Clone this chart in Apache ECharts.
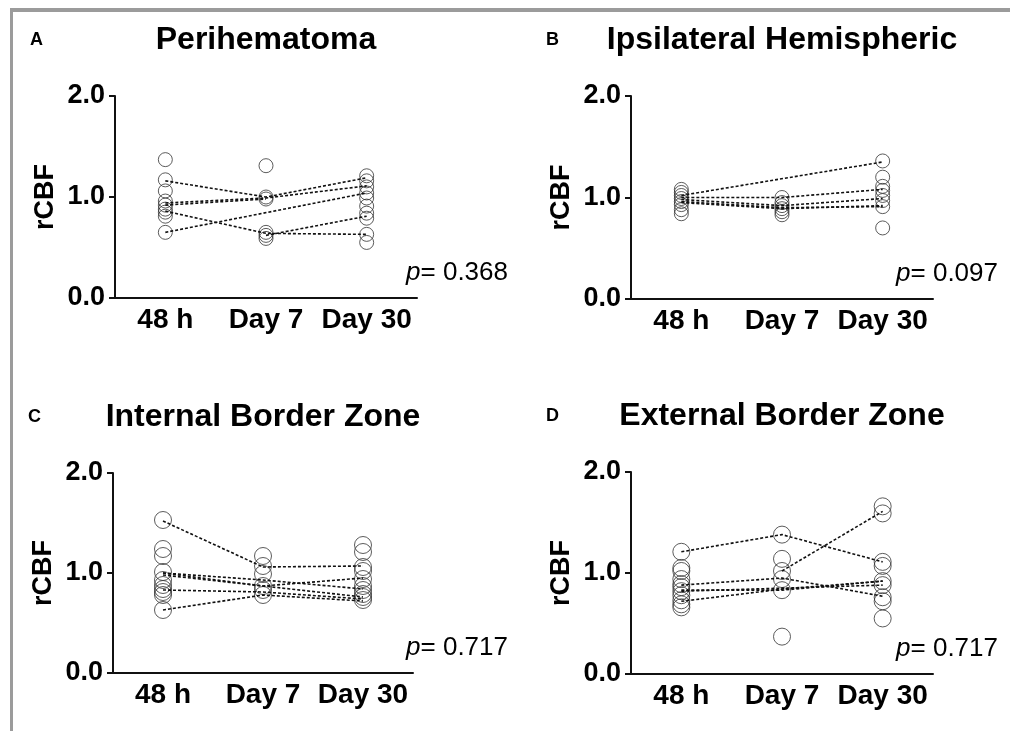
<!DOCTYPE html>
<html lang="en">
<head>
    <meta charset="UTF-8">
    <title>rCBF</title>
    <script src="https://cdn.jsdelivr.net/npm/echarts@6/dist/echarts.min.js"></script>
</head>
<body style="margin:0;background:#fff">
    <div id="ec" style="width:1010px;height:731px"></div>
</body>
<script>
    // time points on the x axis
    var timePoints = ['48 h', 'Day 7', 'Day 30']
    var yTicks = [0, 1, 2]

    // A - Perihematoma
    var peri48 = [1.37, 1.17, 1.06, 0.96, 0.92, 0.88, 0.85, 0.81, 0.65]
    var peri7 = [1.31, 1.00, 0.98, 0.65, 0.62, 0.59]
    var peri30 = [1.21, 1.16, 1.10, 1.04, 0.99, 0.91, 0.84, 0.79, 0.63, 0.55]
    var periLinks = [
        [[0, 1.16], [1, 1.00], [2, 1.19]],
        [[0, 0.94], [1, 0.99], [2, 1.11]],
        [[0, 0.92], [1, 0.98]],
        [[0, 0.86], [1, 0.64], [2, 0.63]],
        [[1, 0.62], [2, 0.81]],
        [[0, 0.65], [2, 1.04]]
    ]

    // B - Ipsilateral Hemispheric
    var ipsi48 = [1.08, 1.05, 1.02, 0.99, 0.96, 0.93, 0.88, 0.84]
    var ipsi7 = [1.00, 0.95, 0.92, 0.89, 0.86, 0.83]
    var ipsi30 = [1.36, 1.20, 1.11, 1.07, 1.02, 0.97, 0.91, 0.70]
    var ipsiLinks = [
        [[0, 1.02], [2, 1.35]],
        [[0, 1.00], [1, 1.00], [2, 1.08]],
        [[0, 0.98], [1, 0.92], [2, 0.99]],
        [[0, 0.96], [1, 0.90], [2, 0.91]],
        [[0, 0.95], [1, 0.89], [2, 0.92]]
    ]

    // C - Internal Border Zone
    var ibz48 = [1.53, 1.24, 1.17, 1.01, 0.93, 0.88, 0.84, 0.81, 0.78, 0.63]
    var ibz7 = [1.17, 1.07, 0.99, 0.87, 0.83, 0.78]
    var ibz30 = [1.28, 1.21, 1.06, 1.02, 0.94, 0.87, 0.83, 0.79, 0.76, 0.73]
    var ibzLinks = [
        [[0, 1.52], [1, 1.06], [2, 1.07]],
        [[0, 1.00], [1, 0.93], [2, 0.84]],
        [[0, 1.00], [1, 0.87], [2, 0.95]],
        [[0, 0.98], [2, 0.76]],
        [[0, 0.83], [1, 0.81], [2, 0.74]],
        [[0, 0.63], [1, 0.78], [2, 0.72]]
    ]

    // D - External Border Zone
    var ebz48 = [1.21, 1.05, 1.02, 0.94, 0.89, 0.86, 0.82, 0.78, 0.73, 0.69, 0.66]
    var ebz7 = [1.38, 1.14, 1.02, 0.94, 0.83, 0.37]
    var ebz30 = [1.66, 1.59, 1.11, 1.07, 0.92, 0.88, 0.76, 0.72, 0.55]
    var ebzLinks = [
        [[0, 1.21], [1, 1.38], [2, 1.11]],
        [[0, 0.88], [1, 0.95], [2, 0.77]],
        [[0, 0.83], [1, 0.83], [2, 0.92]],
        [[0, 0.82], [2, 0.88]],
        [[0, 0.72], [1, 0.84], [2, 0.92]],
        [[1, 1.02], [2, 1.61]]
    ]

    var titles = ['Perihematoma', 'Ipsilateral Hemispheric', 'Internal Border Zone', 'External Border Zone']
    var letters = ['A', 'B', 'C', 'D']
    var pValues = ['0.368', '0.097', '0.717', '0.717']

    var panels = [
        { h48: peri48, d7: peri7, d30: peri30, links: periLinks, grid: { left: 115, top: 96, width: 302, height: 202 }, size: 14, pRight: 508 },
        { h48: ipsi48, d7: ipsi7, d30: ipsi30, links: ipsiLinks, grid: { left: 631, top: 96, width: 302, height: 203 }, size: 14, pRight: 998 },
        { h48: ibz48, d7: ibz7, d30: ibz30, links: ibzLinks, grid: { left: 113, top: 473, width: 300, height: 200 }, size: 17, pRight: 508 },
        { h48: ebz48, d7: ebz7, d30: ebz30, links: ebzLinks, grid: { left: 631, top: 472, width: 302, height: 202 }, size: 17, pRight: 998 }
    ]

    var font = 'Arial, "Liberation Sans", Helvetica, sans-serif'
    var grids = [], xAxes = [], yAxes = [], series = [], graphics = []

    // frame
    graphics.push({ type: 'rect', shape: { x: 10, y: 8, width: 3, height: 731 }, style: { fill: '#9b9b9b' } })
    graphics.push({ type: 'rect', shape: { x: 10, y: 8, width: 1000, height: 4 }, style: { fill: '#9b9b9b' } })

    panels.forEach(function (p, i) {
        grids.push(p.grid)
        xAxes.push({
            type: 'category', gridIndex: i, data: timePoints, boundaryGap: true,
            axisLine: { lineStyle: { color: '#111', width: 2 } },
            axisTick: { alignWithLabel: true, length: 6, lineStyle: { width: 2, color: '#111' } },
            axisLabel: { color: '#000', fontSize: 28, fontWeight: 'bold', fontFamily: font, margin: 8, interval: 0 },
            splitLine: { show: false }
        })
        yAxes.push({
            type: 'value', gridIndex: i, min: yTicks[0], max: yTicks[2], interval: 1,
            name: 'rCBF', nameLocation: 'middle', nameGap: 56,
            nameTextStyle: { color: '#000', fontSize: 27, fontWeight: 'bold', fontFamily: font },
            axisLine: { show: true, lineStyle: { color: '#111', width: 2 } },
            axisTick: { show: true, length: 6, lineStyle: { width: 2, color: '#111' } },
            axisLabel: { color: '#000', fontSize: 27, fontWeight: 'bold', fontFamily: font, margin: 10,
                formatter: function (v) { return v.toFixed(1) } },
            splitLine: { show: false }
        })
        var pts = []
        p.h48.forEach(function (v) { pts.push([0, v]) })
        p.d7.forEach(function (v) { pts.push([1, v]) })
        p.d30.forEach(function (v) { pts.push([2, v]) })
        series.push({
            type: 'scatter', xAxisIndex: i, yAxisIndex: i, data: pts,
            symbol: 'circle', symbolSize: p.size, silent: true,
            itemStyle: { color: 'rgba(255,255,255,0)', borderColor: '#333', borderWidth: 1 }
        })
        p.links.forEach(function (l) {
            series.push({
                type: 'line', xAxisIndex: i, yAxisIndex: i, data: l,
                symbol: 'none', silent: true,
                lineStyle: { color: '#111', width: 1.6, type: [3, 2] }
            })
        })

        var g = p.grid
        graphics.push({ type: 'text', x: g.left - 85, y: g.top - 56,
            style: { text: letters[i], font: 'bold 18px ' + font, fill: '#000', textVerticalAlign: 'middle' } })
        graphics.push({ type: 'text', x: g.left + g.width / 2, y: g.top - 56,
            style: { text: titles[i], font: 'bold 32px ' + font, fill: '#000', textAlign: 'center', textVerticalAlign: 'middle' } })
        graphics.push({ type: 'text', x: p.pRight, y: g.top + g.height - 25,
            style: { text: '{i|p}= ' + pValues[i], font: '26px ' + font, fill: '#000', textAlign: 'right', textVerticalAlign: 'middle',
                rich: { i: { fontStyle: 'italic', fontSize: 26, fontFamily: font } } } })
    })

    var mychart = echarts.init(document.getElementById('ec'))
    mychart.setOption({
        animation: false,
        grid: grids,
        xAxis: xAxes,
        yAxis: yAxes,
        series: series,
        graphic: graphics
    })
</script>
</html>
